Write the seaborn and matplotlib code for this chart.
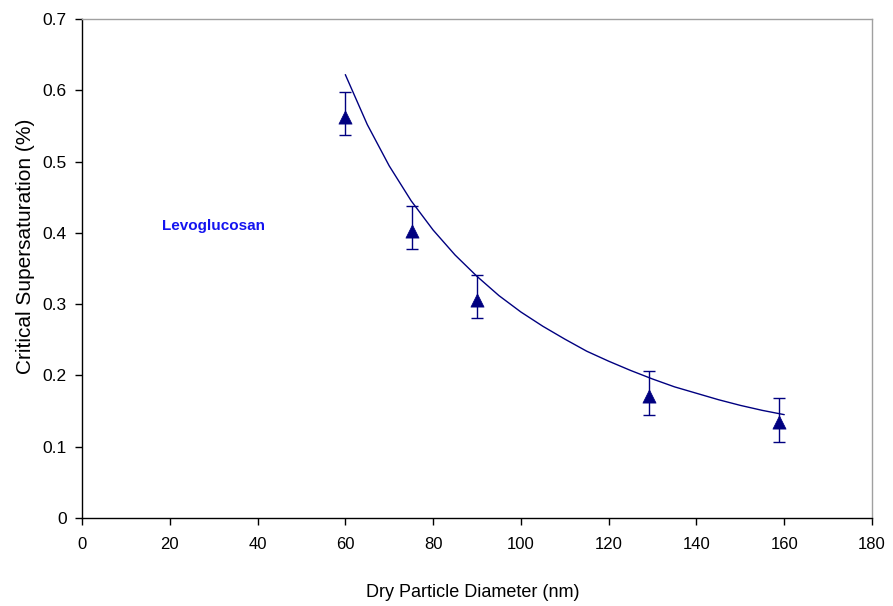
import matplotlib
matplotlib.use("Agg")
import matplotlib.pyplot as plt
import seaborn as sns
import pandas as pd

# Measured points
diam = [60.0, 75.1, 90.0, 129.1, 158.7]
ssat = [0.562, 0.402, 0.306, 0.171, 0.134]
err_up = [0.035, 0.036, 0.035, 0.035, 0.034]
err_lo = [0.025, 0.025, 0.025, 0.026, 0.027]

# Theoretical curve
curve_d = [60, 65, 70, 75, 80, 85, 90, 95, 100, 105, 110, 115, 120, 125, 130,
           135, 140, 145, 150, 155, 160]
curve_s = [0.622, 0.552, 0.494, 0.445, 0.404, 0.369, 0.339, 0.312, 0.289, 0.269,
           0.251, 0.234, 0.220, 0.207, 0.195, 0.184, 0.175, 0.166, 0.158, 0.151, 0.145]

xticks = [0, 20, 40, 60, 80, 100, 120, 140, 160, 180]
yticks = [0, 0.1, 0.2, 0.3, 0.4, 0.5, 0.6, 0.7]
ytick_labels = ["0", "0.1", "0.2", "0.3", "0.4", "0.5", "0.6", "0.7"]

sns.set_style("white")
plt.rcParams['font.family'] = ['Liberation Sans', 'DejaVu Sans']
plt.rcParams['text.color'] = 'black'
plt.rcParams['axes.labelcolor'] = 'black'
plt.rcParams['xtick.color'] = 'black'
plt.rcParams['ytick.color'] = 'black'

fig = plt.figure(figsize=(8.93, 6.06), dpi=100)
ax = fig.add_axes([0.0918, 0.1452, 0.8847, 0.8234])

navy = "#000080"
curve_df = pd.DataFrame({"d": curve_d, "s": curve_s})
sns.lineplot(data=curve_df, x="d", y="s", ax=ax, color=navy, linewidth=1.0)

ax.errorbar(diam, ssat, yerr=[err_lo, err_up], fmt="none", ecolor=navy,
            elinewidth=1.0, capsize=4, capthick=1.0)
pts = pd.DataFrame({"d": diam, "s": ssat})
sns.scatterplot(data=pts, x="d", y="s", ax=ax, marker="^", s=90, color=navy,
                edgecolor=navy, linewidth=0.5, zorder=5)

ax.set_xlim(0, 180)
ax.set_ylim(0, 0.7)
ax.set_xticks(xticks)
ax.set_xticklabels([str(t) for t in xticks], fontsize=12)
ax.set_yticks(yticks)
ax.set_yticklabels(ytick_labels, fontsize=12.5)

ax.tick_params(axis='x', which='major', bottom=True, direction='out', length=5,
               width=1, color='black', labelcolor='black', pad=9)
ax.tick_params(axis='y', which='major', left=True, direction='out', length=5,
               width=1, color='black', labelcolor='black', pad=6)

for side in ['left', 'bottom']:
    ax.spines[side].set_color('black')
    ax.spines[side].set_linewidth(1.0)
for side in ['top', 'right']:
    ax.spines[side].set_color('#a0a0a0')
    ax.spines[side].set_linewidth(1.0)

ax.set_xlabel("Dry Particle Diameter (nm)", fontsize=13, color='black')
ax.set_ylabel("Critical Supersaturation (%)", fontsize=15, color='black')
ax.xaxis.set_label_coords(0.495, -0.132)
ax.yaxis.set_label_coords(-0.060, 0.545)

ax.text(18.2, 0.41, "Levoglucosan", color="#1414F0", fontsize=11,
        fontweight='bold', ha='left', va='center')

fig.savefig("out.png", dpi=100)
